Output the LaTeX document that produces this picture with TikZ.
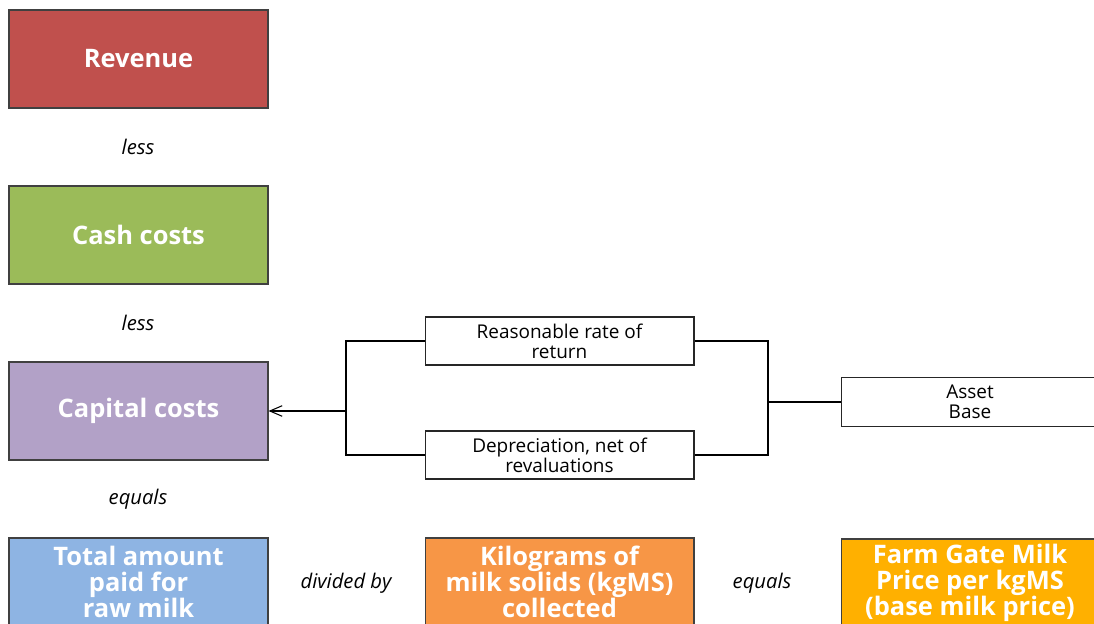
\documentclass[tikz,border=0pt]{standalone}
\usepackage{fontspec}
\setmainfont{Open Sans}
\usetikzlibrary{arrows.meta}

\definecolor{revenuered}{RGB}{192,80,77}
\definecolor{cashgreen}{RGB}{155,187,89}
\definecolor{capitalpurple}{RGB}{178,161,199}
\definecolor{totalblue}{RGB}{142,180,227}
\definecolor{kiloorange}{RGB}{247,150,70}
\definecolor{farmyellow}{RGB}{255,176,0}

\begin{document}
\begin{tikzpicture}[x=0.02cm, y=-0.02cm,
    bigbox/.style={draw=black!75, line width=0.6pt, inner sep=0pt, align=center,
      text=white, font=\fontsize{14.5}{15}\selectfont\bfseries},
    smallbox/.style={draw=black!85, line width=0.6pt, fill=white, inner sep=0pt, align=center,
      minimum height=0.96cm, font=\fontsize{10.8}{11.4}\selectfont},
    word/.style={font=\fontsize{11.5}{12}\selectfont\itshape}]
    \useasboundingbox (0,0) rectangle (1094,624);
    \clip (0,0) rectangle (1094,624);

    \node[bigbox, fill=revenuered, minimum width=5.18cm, minimum height=1.96cm] (revenue) at (138.5,59) {Revenue};
    \node[word] (less1) at (138,147) {less};
    \node[bigbox, fill=cashgreen, minimum width=5.18cm, minimum height=1.96cm] (cash) at (138.5,235) {Cash costs};
    \node[word] (less2) at (138,323) {less};
    \node[bigbox, fill=capitalpurple, minimum width=5.18cm, minimum height=1.96cm] (capital) at (138.5,411) {Capital costs};
    \node[word] (equals1) at (138,499) {equals};

    \node[bigbox, fill=totalblue, minimum width=5.18cm, minimum height=1.76cm] (total) at (138.5,582) {Total amount\\paid for\\raw milk};
    \node[word] (divided) at (346,583) {divided by};
    \node[bigbox, fill=kiloorange, minimum width=5.38cm, minimum height=1.76cm] (kilo) at (559.5,582) {Kilograms of\\milk solids (kgMS)\\collected};
    \node[word] (equals2) at (762,583) {equals};
    \node[bigbox, fill=farmyellow, minimum width=5.16cm, minimum height=1.76cm] (farm) at (970,583) {Farm Gate Milk\\Price per kgMS\\(base milk price)};

    \node[smallbox, minimum width=5.38cm] (rate) at (559.5,341) {Reasonable rate of\\return};
    \node[smallbox, minimum width=5.38cm] (dep) at (559.5,455) {Depreciation, net of\\revaluations};
    \node[smallbox, minimum width=5.16cm, minimum height=0.98cm] (asset) at (970,402) {Asset\\Base};

    \coordinate (jl) at (346,411);
    \coordinate (jr) at (768,402);
    \draw[line width=0.6pt] (rate.west) -| (jl);
    \draw[line width=0.6pt] (dep.west) -| (jl);
    \draw[line width=0.6pt, -{Straight Barb[length=7pt, width=6pt]}] (jl) -- (capital.east);
    \draw[line width=0.6pt] (rate.east) -| (jr);
    \draw[line width=0.6pt] (dep.east) -| (jr);
    \draw[line width=0.6pt] (jr) -- (asset.west);

\end{tikzpicture}
\end{document}
